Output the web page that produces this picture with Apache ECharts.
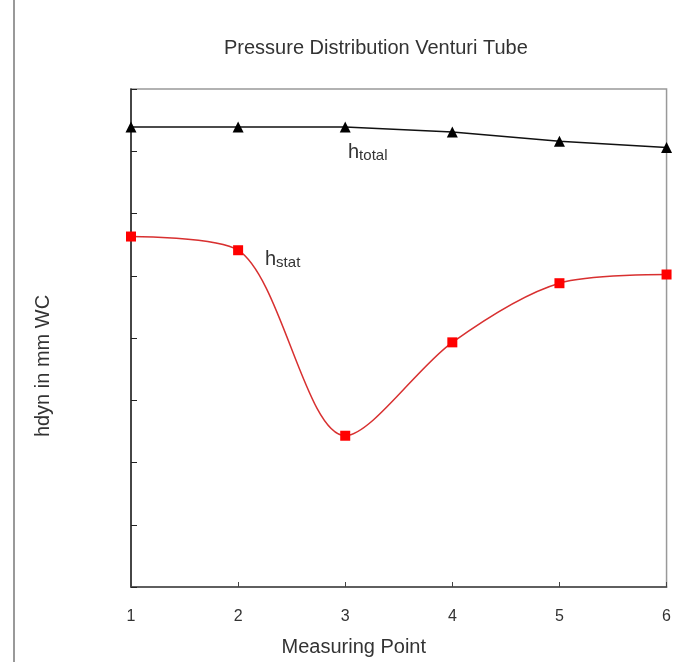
<!DOCTYPE html>
<html>
<head>
<meta charset="utf-8">
<script src="https://cdn.jsdelivr.net/npm/echarts@6/dist/echarts.min.js"></script>
<style>
  html, body { margin: 0; padding: 0; background: #fff; overflow: hidden; }
  #chart { width: 674px; height: 662px; }
</style>
</head>
<body>
<div id="chart"></div>
<script>
// measuring points and heads
const points = [1, 2, 3, 4, 5, 6];
const hTotal = [7.39, 7.39, 7.39, 7.31, 7.16, 7.06];
const hStat = [5.63, 5.41, 2.43, 3.93, 4.88, 5.02];

const chart = echarts.init(document.getElementById('chart'));
const font = 'Liberation Sans, Arial, sans-serif';

const option = {
  backgroundColor: '#fff',
  animation: false,
  title: {
    text: 'Pressure Distribution Venturi Tube',
    left: 219,
    top: 33,
    textStyle: { fontFamily: font, fontSize: 20, fontWeight: 'normal', color: '#333' }
  },
  grid: {
    left: 131, right: 1, top: 89, bottom: 69,
    show: true,
    borderColor: '#999',
    borderWidth: 1.5
  },
  xAxis: {
    type: 'value',
    min: 1, max: 6, interval: 1,
    name: 'Measuring Point',
    nameLocation: 'middle',
    nameGap: 50,
    nameTextStyle: { fontFamily: font, fontSize: 20, color: '#333', padding: [0, 90, 0, 0] },
    axisLine: { lineStyle: { color: '#444', width: 1.5 } },
    axisTick: { inside: true, length: 5, lineStyle: { color: '#444' } },
    axisLabel: { fontFamily: font, fontSize: 16, color: '#333', margin: 22 },
    splitLine: { show: false }
  },
  yAxis: {
    type: 'value',
    min: 0, max: 8, interval: 1,
    name: 'hdyn in mm WC',
    nameLocation: 'middle',
    nameGap: 78,
    nameTextStyle: { fontFamily: font, fontSize: 20, color: '#333', padding: [0, 56, 0, 0] },
    axisLine: { show: true, lineStyle: { color: '#222', width: 1.5 } },
    axisTick: { inside: true, length: 6, lineStyle: { color: '#222' } },
    axisLabel: { show: false },
    splitLine: { show: false }
  },
  series: [
    {
      name: 'htotal',
      type: 'line',
      data: points.map((p, i) => [p, hTotal[i]]),
      symbol: 'triangle',
      symbolSize: 11,
      itemStyle: { color: '#000' },
      lineStyle: { color: '#111', width: 1.5 },
      clip: false
    },
    {
      name: 'hstat',
      type: 'line',
      data: points.map((p, i) => [p, hStat[i]]),
      smooth: 0.3,
      symbol: 'rect',
      symbolSize: 10,
      itemStyle: { color: '#f00' },
      lineStyle: { color: '#d83030', width: 1.5 },
      clip: false
    }
  ],
  graphic: [
    {
      type: 'line',
      shape: { x1: 14, y1: 0, x2: 14, y2: 662 },
      style: { stroke: '#777', lineWidth: 1.5 }
    },
    {
      type: 'text',
      left: 348, top: 142,
      style: {
        text: '{h|h}{s|total}',
        rich: {
          h: { fontFamily: font, fontSize: 20, fill: '#333' },
          s: { fontFamily: font, fontSize: 15, fill: '#333', padding: [7, 0, 0, 0] }
        }
      }
    },
    {
      type: 'text',
      left: 265, top: 249,
      style: {
        text: '{h|h}{s|stat}',
        rich: {
          h: { fontFamily: font, fontSize: 20, fill: '#333' },
          s: { fontFamily: font, fontSize: 15, fill: '#333', padding: [7, 0, 0, 0] }
        }
      }
    }
  ]
};

chart.setOption(option);
</script>
</body>
</html>
